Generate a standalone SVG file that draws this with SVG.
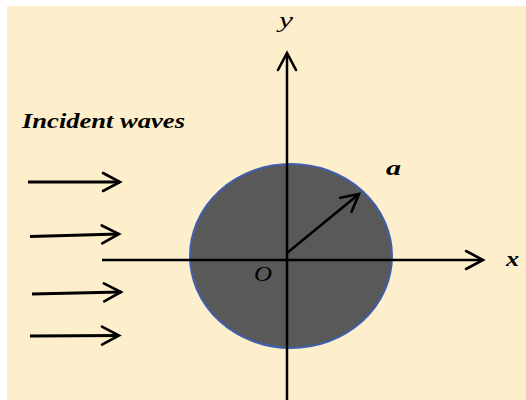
<svg xmlns="http://www.w3.org/2000/svg" width="526" height="400" viewBox="0 0 526 400">
<style>
.lbl{font-family:"Liberation Serif","Times New Roman",serif;font-style:italic;fill:#000}
.ax{stroke:#000;stroke-width:2.5;fill:none}
.wave{stroke:#000;stroke-width:2.8;fill:none}
</style>
<defs>
<marker id="chev" markerUnits="userSpaceOnUse" markerWidth="24" markerHeight="24" refX="18" refY="10" orient="auto" overflow="visible">
<path d="M1,1 L18,10 L1,19" fill="none" stroke="#000" stroke-width="2.6" stroke-linecap="round" stroke-linejoin="miter"/>
</marker>
</defs>
<rect x="0" y="0" width="526" height="400" fill="#fff"/>
<rect x="7" y="6" width="519" height="394" fill="#FDEFCB"/>
<g id="cylinder">
<ellipse cx="291" cy="256" rx="101" ry="92" fill="#595959" stroke="#3F5FB0" stroke-width="2"/>
</g>
<g id="connectors">
<line class="ax" x1="287" y1="400" x2="287" y2="53" marker-end="url(#chev)"/>
<line class="ax" x1="102" y1="260" x2="483" y2="260" marker-end="url(#chev)"/>
<line class="ax" x1="287" y1="253" x2="359" y2="194" marker-end="url(#chev)"/>
<line class="wave" x1="28" y1="182" x2="120" y2="182" marker-end="url(#chev)"/>
<line class="wave" x1="30" y1="236.5" x2="119" y2="234" marker-end="url(#chev)"/>
<line class="wave" x1="32" y1="294" x2="121" y2="292" marker-end="url(#chev)"/>
<line class="wave" x1="30" y1="336" x2="119" y2="335.5" marker-end="url(#chev)"/>
</g>
<g id="labels">
<text class="lbl" x="22" y="128" font-size="22" font-weight="bold" textLength="163" lengthAdjust="spacingAndGlyphs">Incident waves</text>
<text class="lbl" x="279" y="27" font-size="21" textLength="14" lengthAdjust="spacingAndGlyphs">y</text>
<text class="lbl" x="386" y="175" font-size="21" font-weight="bold" textLength="15" lengthAdjust="spacingAndGlyphs">a</text>
<text class="lbl" x="506" y="266" font-size="21" font-weight="bold" textLength="13" lengthAdjust="spacingAndGlyphs">x</text>
<text class="lbl" x="254" y="281" font-size="22" textLength="18" lengthAdjust="spacingAndGlyphs">O</text>
</g>
</svg>
